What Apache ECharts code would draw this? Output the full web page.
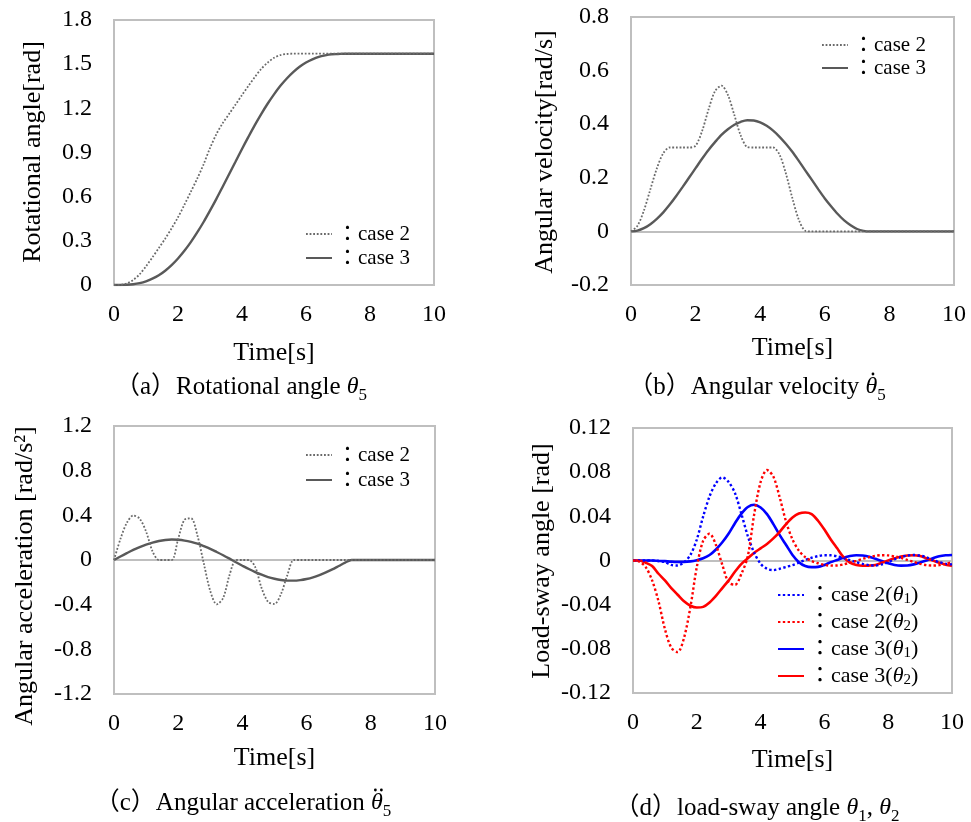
<!DOCTYPE html>
<html>
<head>
<meta charset="utf-8">
<title>Rotational angle / velocity / acceleration / load-sway</title>
<script src="https://cdn.jsdelivr.net/npm/echarts@6.0.0/dist/echarts.min.js"></script>
<style>
  html, body { margin: 0; padding: 0; background: #fff; }
  #chart { width: 971px; height: 822px; }
</style>
</head>
<body>
<div id="chart"></div>
<script>
// time axis [s], shared by every series
const time = [0, 0.2, 0.4, 0.6, 0.8, 1, 1.2, 1.4, 1.6, 1.8, 2, 2.2, 2.4, 2.6, 2.8, 3, 3.2, 3.4, 3.6, 3.8,
  4, 4.2, 4.4, 4.6, 4.8, 5, 5.2, 5.4, 5.6, 5.8, 6, 6.2, 6.4, 6.6, 6.8, 7, 7.2, 7.4, 7.6, 7.8,
  8, 8.2, 8.4, 8.6, 8.8, 9, 9.2, 9.4, 9.6, 9.8, 10];

// (a) rotational angle theta5 [rad]
const angleCase2 = [0, 0.001, 0.011, 0.034, 0.073, 0.127, 0.188, 0.251, 0.315, 0.385,
  0.46, 0.545, 0.633, 0.722, 0.82, 0.93, 1.025, 1.1, 1.163, 1.226,
  1.29, 1.352, 1.412, 1.468, 1.51, 1.543, 1.562, 1.569, 1.571, 1.571,
  1.571, 1.571, 1.571, 1.571, 1.571, 1.571, 1.571, 1.571, 1.571, 1.571,
  1.571, 1.571, 1.571, 1.571, 1.571, 1.571, 1.571, 1.571, 1.571, 1.571, 1.571];
const angleCase3 = [0, 0.0002, 0.0016, 0.0055, 0.013, 0.025, 0.043, 0.066, 0.097, 0.135,
  0.18, 0.232, 0.291, 0.357, 0.428, 0.505, 0.585, 0.669, 0.754, 0.839,
  0.924, 1.006, 1.086, 1.161, 1.231, 1.295, 1.353, 1.403, 1.446, 1.482,
  1.511, 1.533, 1.55, 1.56, 1.567, 1.569, 1.571, 1.571, 1.571, 1.571,
  1.571, 1.571, 1.571, 1.571, 1.571, 1.571, 1.571, 1.571, 1.571, 1.571, 1.571];

// (b) angular velocity [rad/s]
const velCase2 = [0, 0.021, 0.078, 0.157, 0.235, 0.292, 0.313, 0.313, 0.313, 0.313,
  0.32, 0.374, 0.455, 0.523, 0.544, 0.509, 0.434, 0.357, 0.315, 0.313,
  0.313, 0.313, 0.313, 0.286, 0.214, 0.122, 0.042, 0.002, 0, 0,
  0, 0, 0, 0, 0, 0, 0, 0, 0, 0,
  0, 0, 0, 0, 0, 0, 0, 0, 0, 0, 0];
const velCase3 = [0, 0.003, 0.012, 0.027, 0.047, 0.071, 0.1, 0.132, 0.166, 0.201,
  0.236, 0.271, 0.304, 0.333, 0.36, 0.381, 0.398, 0.409, 0.415, 0.414,
  0.407, 0.394, 0.376, 0.353, 0.326, 0.296, 0.262, 0.227, 0.192, 0.157,
  0.123, 0.093, 0.065, 0.041, 0.023, 0.009, 0.002, 0, 0, 0,
  0, 0, 0, 0, 0, 0, 0, 0, 0, 0, 0];

// (c) angular acceleration [rad/s^2]
const accCase2 = [0, 0.188, 0.333, 0.398, 0.37, 0.254, 0.078, 0, 0, 0,
  0.19, 0.362, 0.373, 0.218, -0.034, -0.278, -0.397, -0.34, -0.134, 0,
  0, 0, -0.063, -0.253, -0.375, -0.394, -0.306, -0.135, 0, 0,
  0, 0, 0, 0, 0, 0, 0, 0, 0, 0,
  0, 0, 0, 0, 0, 0, 0, 0, 0, 0, 0];
const accCase3 = [0, 0.031, 0.061, 0.09, 0.116, 0.138, 0.156, 0.17, 0.179, 0.183,
  0.181, 0.174, 0.162, 0.146, 0.124, 0.1, 0.072, 0.043, 0.012, -0.02,
  -0.051, -0.081, -0.108, -0.132, -0.153, -0.168, -0.179, -0.185, -0.185, -0.18,
  -0.17, -0.155, -0.135, -0.111, -0.084, -0.054, -0.024, 0, 0, 0,
  0, 0, 0, 0, 0, 0, 0, 0, 0, 0, 0];

// (d) load-sway angle [rad]
const swayCase2Th1 = [0, 0, 0, 0, -0.0005, -0.0015, -0.004, -0.0045, -0.0015, 0.005,
  0.019, 0.04, 0.058, 0.07, 0.0754, 0.071, 0.0608, 0.042, 0.022, 0.007,
  -0.003, -0.0075, -0.0087, -0.0075, -0.0058, -0.0042, -0.002, 0.0005, 0.0025, 0.004,
  0.0048, 0.0047, 0.0038, 0.0022, 0.0003, -0.0015, -0.003, -0.0042, -0.0045, -0.0035,
  -0.0015, 0.001, 0.003, 0.0045, 0.005, 0.0045, 0.003, 0.0005, -0.0015, -0.003, -0.0035];
const swayCase2Th2 = [0, -0.001, -0.006, -0.018, -0.037, -0.062, -0.079, -0.083, -0.07, -0.042,
  -0.006, 0.018, 0.0243, 0.014, -0.004, -0.02, -0.022, -0.012, 0.004, 0.042,
  0.071, 0.082, 0.076, 0.057, 0.035, 0.019, 0.009, 0.003, -0.0005, -0.0025,
  -0.004, -0.0046, -0.0045, -0.0035, -0.002, -0.0003, 0.0015, 0.003, 0.0043, 0.0048,
  0.0046, 0.0037, 0.0023, 0.0005, -0.0013, -0.003, -0.0042, -0.0046, -0.0042, -0.003, -0.0015];
const swayCase3Th1 = [0, 0, 0, 0, -0.0003, -0.0006, -0.001, -0.0012, -0.0012, -0.0008,
  0.0003, 0.002, 0.005, 0.01, 0.0165, 0.0245, 0.034, 0.0425, 0.0485, 0.0505,
  0.048, 0.042, 0.033, 0.023, 0.014, 0.005, -0.0015, -0.005, -0.006, -0.0058,
  -0.004, -0.0015, 0.0005, 0.0025, 0.004, 0.0048, 0.0045, 0.0035, 0.0015, -0.0005,
  -0.0025, -0.004, -0.0046, -0.0045, -0.0035, -0.0018, 0, 0.002, 0.0038, 0.0047, 0.005];
const swayCase3Th2 = [0, 0, -0.002, -0.005, -0.012, -0.018, -0.025, -0.031, -0.037, -0.041,
  -0.0426, -0.042, -0.038, -0.032, -0.025, -0.018, -0.01, -0.003, 0.002, 0.007,
  0.011, 0.015, 0.02, 0.026, 0.033, 0.039, 0.0425, 0.0435, 0.042, 0.036,
  0.028, 0.019, 0.011, 0.003, -0.002, -0.004, -0.0047, -0.0046, -0.004, -0.002,
  0, 0.002, 0.0037, 0.0046, 0.0048, 0.004, 0.002, 0, -0.002, -0.0038, -0.0048];

// y-axis ranges per panel: [min, max, interval]
const yRanges = [[0, 1.8, 0.3], [-0.2, 0.8, 0.2], [-1.2, 1.2, 0.4], [-0.12, 0.12, 0.04]];

const FONT = "'Liberation Serif', 'Noto Sans CJK JP', serif";
const GRAY_SOLID = '#595959';
const GRAY_DOT = '#6a6a6a';

const grids = [
  { left: 114, top: 20, width: 320, height: 265 },
  { left: 631, top: 17, width: 323, height: 268 },
  { left: 114, top: 426, width: 321, height: 268 },
  { left: 633, top: 428, width: 319, height: 265 }
];

const pairs = vals => time.map((t, i) => [t, vals[i]]);

const zeroLine = {
  silent: true,
  z: 1,
  symbol: 'none',
  label: { show: false },
  lineStyle: { color: '#bfbfbf', width: 2, type: 'solid' },
  data: [{ yAxis: 0 }]
};

function line(name, idx, vals, color, width, dotted, extra) {
  return Object.assign({
    name: name,
    type: 'line',
    xAxisIndex: idx,
    yAxisIndex: idx,
    data: pairs(vals),
    symbol: 'none',
    showSymbol: false,
    smooth: 0.3,
    z: dotted ? 3 : 2,
    itemStyle: { color: color },
    lineStyle: { color: color, width: width, type: dotted ? [width, width] : 'solid' }
  }, extra || {});
}

const subRich = {
  i: { fontStyle: 'italic', fontFamily: FONT, lineHeight: 24 },
  s: { fontSize: 15, fontFamily: FONT, verticalAlign: 'bottom', lineHeight: 24 }
};

function legendAt(left, top, names, gap, size, formatter) {
  return {
    orient: 'vertical',
    left: left,
    top: top,
    padding: 0,
    itemGap: gap,
    itemWidth: 26,
    itemHeight: 12,
    selectedMode: false,
    data: names,
    itemStyle: { opacity: 0 },
    formatter: formatter || (n => '：' + n),
    textStyle: { fontSize: size, lineHeight: 24, fontFamily: FONT, color: '#000', rich: subRich }
  };
}

function yName(x, y, text) {
  return {
    type: 'text', x: x, y: y, rotation: Math.PI / 2,
    style: { text: text, fontSize: 26, fontFamily: FONT, fill: '#000', align: 'center', verticalAlign: 'middle' }
  };
}

// caption fonts (also used to find where theta sits, for the time-derivative dots)
const CAP_MAIN = 25, CAP_THETA = 24, CAP_SUB = 17;
const measureCtx = document.createElement('canvas').getContext('2d');
function textWidth(str, font) {
  measureCtx.font = font;
  return measureCtx.measureText(str).width;
}

function caption(x, y, text) {
  return {
    type: 'text', x: x, y: y,
    style: {
      text: text, fontSize: CAP_MAIN, fontFamily: FONT, fill: '#000', align: 'center', verticalAlign: 'middle',
      lineHeight: 30,
      rich: {
        i: { fontStyle: 'italic', fontSize: CAP_THETA, fontFamily: FONT, lineHeight: 30 },
        s: { fontSize: CAP_SUB, fontFamily: FONT, verticalAlign: 'bottom', lineHeight: 34 }
      }
    }
  };
}

// caption ending in theta_5 with n dots above theta
function derivCaption(x, y, prefix, nDots) {
  const wPre = textWidth(prefix, CAP_MAIN + 'px ' + FONT);
  const wTh = textWidth('θ', 'italic ' + CAP_THETA + 'px ' + FONT);
  const wSub = textWidth('5', CAP_SUB + 'px ' + FONT);
  const start = x - (wPre + wTh + wSub) / 2;
  const thetaMid = start + wPre + wTh / 2 + 1.5;
  const items = [caption(x, y, prefix + '{i|θ}{s|5}')];
  const offsets = nDots === 1 ? [0] : [-3, 3];
  offsets.forEach(o => items.push({
    type: 'circle',
    shape: { cx: thetaMid + o, cy: y - 13, r: 1.4 },
    style: { fill: '#000' }
  }));
  return items;
}

const nameGaps = [55, 50, 51, 54];

const option = {
  animation: false,
  backgroundColor: '#fff',
  textStyle: { fontFamily: FONT },
  grid: grids.map(g => Object.assign({ show: true, borderColor: '#bfbfbf', borderWidth: 2, backgroundColor: 'transparent' }, g)),
  xAxis: grids.map((g, i) => ({
    type: 'value',
    gridIndex: i,
    min: 0,
    max: 10,
    interval: 2,
    name: 'Time[s]',
    nameLocation: 'middle',
    nameGap: nameGaps[i],
    nameTextStyle: { fontSize: 26, fontFamily: FONT, color: '#000' },
    axisLine: { show: false },
    axisTick: { show: false },
    splitLine: { show: false },
    axisLabel: { fontSize: 24, fontFamily: FONT, color: '#000', margin: 18 }
  })),
  yAxis: yRanges.map((r, i) => ({
    type: 'value',
    gridIndex: i,
    min: r[0],
    max: r[1],
    interval: r[2],
    axisLine: { show: false },
    axisTick: { show: false },
    splitLine: { show: false },
    axisLabel: { fontSize: 24, fontFamily: FONT, color: '#000', margin: 22 }
  })),
  legend: [
    legendAt(305, 222, ['case 2', 'case 3'], 0, 21),
    legendAt(821, 33, ['case 2', 'case 3'], -1, 21),
    legendAt(305, 443, ['case 2', 'case 3'], 1, 21),
    legendAt(777, 583, ['case 2(θ1)', 'case 2(θ2)', 'case 3(θ1)', 'case 3(θ2)'], 3, 22,
      n => '：' + n.replace(/θ(\d)/, '{i|θ}{s|$1}'))
  ],
  series: [
    line('case 2', 0, angleCase2, GRAY_DOT, 1.8, true),
    line('case 3', 0, angleCase3, GRAY_SOLID, 2.4, false),
    line('case 2', 1, velCase2, GRAY_DOT, 1.8, true),
    line('case 3', 1, velCase3, GRAY_SOLID, 2.4, false, { markLine: zeroLine }),
    line('case 2', 2, accCase2, GRAY_DOT, 1.8, true),
    line('case 3', 2, accCase3, GRAY_SOLID, 2.4, false, { markLine: zeroLine }),
    line('case 2(θ1)', 3, swayCase2Th1, '#0000ff', 2.4, true),
    line('case 2(θ2)', 3, swayCase2Th2, '#ff0000', 2.4, true),
    line('case 3(θ1)', 3, swayCase3Th1, '#0000ff', 2.6, false, { markLine: zeroLine }),
    line('case 3(θ2)', 3, swayCase3Th2, '#ff0000', 2.6, false)
  ],
  graphic: [
    yName(33, 152, 'Rotational angle[rad]'),
    yName(545, 152, 'Angular velocity[rad/s]'),
    yName(25, 576, 'Angular acceleration [rad/s²]'),
    yName(542, 561, 'Load-sway angle [rad]'),
    caption(241, 387, '（a）Rotational angle {i|θ}{s|5}'),
    ...derivCaption(757, 387, '（b）Angular velocity ', 1),
    ...derivCaption(243, 803, '（c）Angular acceleration ', 2),
    caption(757, 808, '（d）load-sway angle {i|θ}{s|1}, {i|θ}{s|2}')
  ]
};

const chart = echarts.init(document.getElementById('chart'), null, { renderer: 'canvas' });
chart.setOption(option);
window.addEventListener('resize', () => chart.resize());
</script>
</body>
</html>
